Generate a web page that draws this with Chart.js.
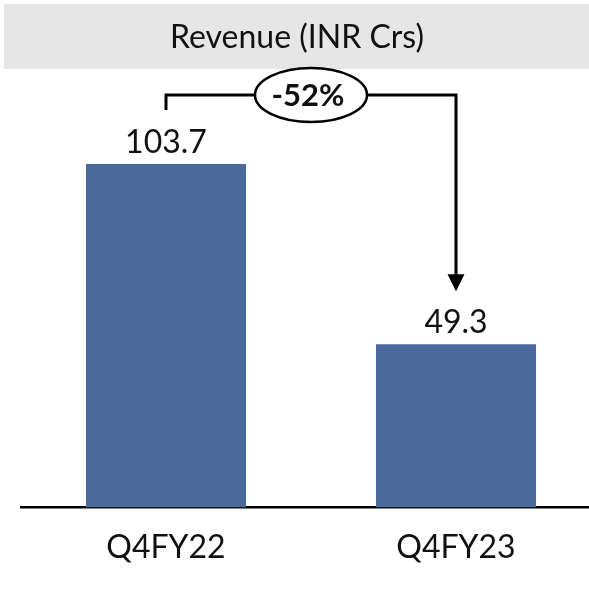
<!DOCTYPE html>
<html>
<head>
<meta charset="utf-8">
<script src="https://cdn.jsdelivr.net/npm/chart.js@4"></script>
<style>
  html, body { margin: 0; padding: 0; background: #fff; overflow: hidden; }
  #wrap { width: 606px; height: 600px; }
</style>
</head>
<body>
<div id="wrap"><canvas id="revenue-chart" width="606" height="600"></canvas></div>
<script>
const quarters = ["Q4FY22", "Q4FY23"];
const revenue = [103.7, 49.3];
const chartTitle = "Revenue (INR Crs)";
const barColor = "#4a6a9b";
const fontName = "Lato, 'Open Sans', sans-serif";

// title band, value labels and the change bracket
const extras = {
    id: "extras",
    beforeDraw(chart) {
        const ctx = chart.ctx;
        ctx.save();
        ctx.fillStyle = "#e6e6e6";
        ctx.fillRect(4, 4, chart.width, 65);
        ctx.fillStyle = "#111";
        ctx.font = "32px " + fontName;
        ctx.textAlign = "center";
        ctx.textBaseline = "middle";
        ctx.fillText(chartTitle, 297, 38);
        ctx.restore();
    },
    afterDatasetsDraw(chart) {
        const ctx = chart.ctx;
        const bars = chart.getDatasetMeta(0).data;
        ctx.save();
        ctx.fillStyle = "#111";
        ctx.font = "32px " + fontName;
        ctx.textAlign = "center";
        ctx.textBaseline = "alphabetic";
        bars.forEach((bar, i) => {
            ctx.fillText(revenue[i].toFixed(1), bar.x, bar.y - 11);
        });

        const x1 = bars[0].x, x2 = bars[1].x;
        const topY = chart.chartArea.top - 15;
        const tipY = bars[1].y - 53;
        ctx.strokeStyle = "#000";
        ctx.lineWidth = 3;
        ctx.beginPath();
        ctx.moveTo(x1, topY + 15);
        ctx.lineTo(x1, topY);
        ctx.lineTo(x2, topY);
        ctx.lineTo(x2, tipY - 16);
        ctx.stroke();
        ctx.fillStyle = "#000";
        ctx.beginPath();
        ctx.moveTo(x2 - 8.5, tipY - 17);
        ctx.lineTo(x2 + 8.5, tipY - 17);
        ctx.lineTo(x2, tipY);
        ctx.closePath();
        ctx.fill();

        const cx = (x1 + x2) / 2;
        ctx.beginPath();
        ctx.ellipse(cx, topY, 56, 27, 0, 0, Math.PI * 2);
        ctx.fillStyle = "#fff";
        ctx.fill();
        ctx.lineWidth = 2.5;
        ctx.stroke();
        const change = Math.round((revenue[1] / revenue[0] - 1) * 100);
        ctx.fillStyle = "#111";
        ctx.font = "bold 31px " + fontName;
        ctx.textBaseline = "middle";
        ctx.fillText(change + "%", cx - 3, topY + 1);
        ctx.restore();
    },
};

new Chart(document.querySelector("#revenue-chart"), {
    type: "bar",
    data: {
        labels: quarters,
        datasets: [
            {
                label: "Revenue",
                data: revenue,
                backgroundColor: barColor,
                categoryPercentage: 1,
                barPercentage: 0.552,
            },
        ],
    },
    options: {
        responsive: false,
        animation: false,
        layout: { padding: { top: 110, left: 21, right: 5, bottom: 12 } },
        plugins: {
            legend: { display: false },
            title: { display: false },
            tooltip: { enabled: false },
        },
        scales: {
            x: {
                grid: { display: false, drawTicks: false },
                border: { display: true, color: "#000", width: 2.5 },
                ticks: {
                    color: "#111",
                    padding: 21,
                    font: { family: fontName, size: 32 },
                },
            },
            y: {
                display: false,
                min: 0,
                max: 120,
            },
        },
    },
    plugins: [extras],
});
</script>
</body>
</html>
